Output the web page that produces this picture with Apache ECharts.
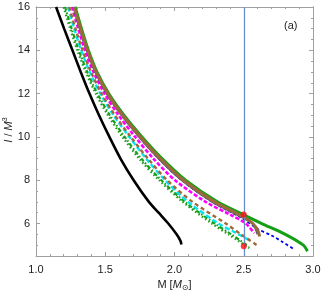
<!DOCTYPE html>
<html><head><meta charset="utf-8">
<script src="https://cdn.jsdelivr.net/npm/echarts@6/dist/echarts.min.js"></script>
<style>html,body{margin:0;padding:0;background:#fff}#c{width:322px;height:292px}</style>
</head><body><div id="c"></div>
<script>
// ---- data (M, I/M^3) ----
const blackSolid = [[1.145,16],[1.203,15],[1.263,14],[1.323,13],[1.386,12],[1.455,11],[1.53,10],[1.61,9],[1.705,8],[1.815,7],[1.885,6.5],[1.955,6],[2.015,5.5],[2.043,5.2],[2.05,5.03]];
const greenSolid = [[1.283,16],[1.328,15],[1.378,14],[1.44,13],[1.525,12],[1.635,11],[1.765,10],[1.91,9],[2.08,8],[2.31,7],[2.5,6.4],[2.63,6],[2.80,5.5],[2.93,5.0],[2.96,4.72]];
const brownSolid = [[1.276,16],[1.322,15],[1.372,14],[1.434,13],[1.518,12],[1.626,11],[1.754,10],[1.897,9],[2.065,8],[2.29,7],[2.5,6.3],[2.565,6],[2.6,5.7],[2.615,5.4]];
const graySolid  = [[1.271,16],[1.316,15],[1.366,14],[1.428,13],[1.511,12],[1.618,11],[1.744,10],[1.885,9],[2.052,8],[2.273,7],[2.5,6.25],[2.565,6],[2.6,5.5]];
const blueDashed = [[1.271,16],[1.316,15],[1.366,14],[1.428,13],[1.511,12],[1.618,11],[1.744,10],[1.885,9],[2.052,8],[2.273,7],[2.5,6.2],[2.6,5.75],[2.7,5.45],[2.78,5.15],[2.86,4.82]];
const magentaDashed = [[1.26,16],[1.305,15],[1.354,14],[1.415,13],[1.495,12],[1.596,11],[1.716,10],[1.847,9],[2.004,8],[2.225,7],[2.405,6.4],[2.515,6],[2.575,5.55]];
const brownDashed = [[1.24,16],[1.285,15],[1.336,14],[1.397,13],[1.474,12],[1.57,11],[1.684,10],[1.808,9],[1.947,8],[2.13,7],[2.37,6],[2.48,5.5],[2.595,5.0]];
const cyanDashed  = [[1.23,16],[1.276,15],[1.327,14],[1.388,13],[1.465,12],[1.56,11],[1.674,10],[1.795,9],[1.932,8],[2.098,7],[2.317,6],[2.44,5.58],[2.545,5.22]];
const greenDashDot = [[1.21,16],[1.257,15],[1.309,14],[1.37,13],[1.443,12],[1.533,11],[1.64,10],[1.76,9],[1.905,8],[2.075,7],[2.29,6],[2.41,5.5],[2.535,4.95]];
const greenDotted = [[1.2,16],[1.247,15],[1.299,14],[1.36,13],[1.432,12],[1.52,11],[1.625,10],[1.745,9],[1.89,8],[2.06,7],[2.27,6],[2.39,5.5],[2.54,4.87]];
const markerPoints = [[2.5,6.42],[2.5,4.95]];
const vLineX = 2.5;
const yTicks = [6,8,10,12,14,16];
const yMinorTicks = [5,5.5,6.5,7,7.5,8.5,9,9.5,10.5,11,11.5,12.5,13,13.5,14.5,15,15.5];
const panelTag = '(a)';
const yTitle = '{i|I} / {i|M}{sup|3}';
const xTitle = 'M [{i|M}{sub|⊙}]';

const FONT = 'Liberation Sans';
const frame = '#a0a0a0';
function line(data,color,width,type){
  return {type:'line',data:data,showSymbol:false,smooth:0.3,clip:true,
    lineStyle:{color:color,width:width,type:type},z:3};
}
const yBase = {type:'value',min:4.5,max:16,splitLine:{show:false},
  axisLine:{show:true,lineStyle:{color:frame,width:1}}};
const chart = echarts.init(document.getElementById('c'),null,{renderer:'canvas'});
chart.setOption({
  animation:false,
  grid:{left:36,right:9,top:7,bottom:36,containLabel:false,outerBoundsMode:'none'},
  xAxis:[
    {type:'value',min:1,max:3,interval:0.5,position:'bottom',
     axisLine:{show:true,lineStyle:{color:frame}},
     axisTick:{show:true,inside:true,length:4,lineStyle:{color:frame}},
     minorTick:{show:true,splitNumber:5,length:2,lineStyle:{color:frame}},
     splitLine:{show:false},
     axisLabel:{color:'#222',fontSize:11,fontFamily:FONT,margin:8,formatter:v=>v.toFixed(1)},
     name:xTitle,nameLocation:'middle',nameGap:22,
     nameTextStyle:{color:'#222',fontSize:11,fontFamily:FONT,
       rich:{i:{fontStyle:'italic',fontSize:11,fontFamily:FONT,color:'#222'},
             sub:{fontSize:8,fontFamily:'DejaVu Sans',color:'#222',padding:[6,0,0,0]}}}},
    {type:'value',min:1,max:3,interval:0.5,position:'top',
     axisLine:{show:true,lineStyle:{color:frame}},
     axisTick:{show:true,inside:true,length:4,lineStyle:{color:frame}},
     minorTick:{show:true,splitNumber:5,length:2,lineStyle:{color:frame}},
     splitLine:{show:false},axisLabel:{show:false}}
  ],
  yAxis:[
    Object.assign({},yBase,{position:'left',
      axisTick:{show:true,inside:true,length:4,customValues:yTicks,lineStyle:{color:frame}},
      axisLabel:{show:true,customValues:yTicks,color:'#222',fontSize:11,fontFamily:FONT,margin:6}}),
    Object.assign({},yBase,{position:'left',
      axisTick:{show:true,inside:true,length:2,customValues:yMinorTicks,lineStyle:{color:frame}},
      axisLabel:{show:false}}),
    Object.assign({},yBase,{position:'right',
      axisTick:{show:true,inside:true,length:4,customValues:yTicks,lineStyle:{color:frame}},
      axisLabel:{show:false}}),
    Object.assign({},yBase,{position:'right',
      axisTick:{show:true,inside:true,length:2,customValues:yMinorTicks,lineStyle:{color:frame}},
      axisLabel:{show:false}})
  ],
  series:[
    line(blackSolid,'#000',2.6,'solid'),
    line(greenDotted,'#1a9e1a',2.4,[1.5,2.5]),
    line(greenDashDot,'#1a9e1a',2.2,[4,2,1.5,2]),
    line(cyanDashed,'#00e5f0',2.4,[5,2.5]),
    line(brownDashed,'#a0693a',2.4,[4,3]),
    line(magentaDashed,'#ff00ff',2.6,[4,2]),
    line(blueDashed,'#0000ee',1.8,[3,2.5]),
    line(graySolid,'#5a5a6a',2,'solid'),
    line(brownSolid,'#9a6a3a',3,'solid'),
    Object.assign(line(greenSolid,'#14a014',3,'solid'),{z:2}),
    {type:'line',data:[],markLine:{silent:true,symbol:'none',label:{show:false},
      lineStyle:{color:'#6a8cc8',width:1.3,type:'solid'},data:[{xAxis:vLineX}]},z:4},
    {type:'scatter',data:markerPoints,symbolSize:6,itemStyle:{color:'#ff1010'},z:6}
  ],
  graphic:[
    {type:'text',left:284,top:20,style:{text:panelTag,font:'11px '+FONT,fill:'#222'}},
    {type:'text',x:9,y:130,rotation:Math.PI/2,
     style:{text:yTitle,align:'center',verticalAlign:'middle',fill:'#222',font:'11px '+FONT,
       rich:{i:{fontStyle:'italic',fontSize:11,fontFamily:FONT,fill:'#222'},
             sup:{fontSize:7,fontFamily:FONT,fill:'#222',padding:[0,0,7,0]}}}}
  ]
});
</script></body></html>
